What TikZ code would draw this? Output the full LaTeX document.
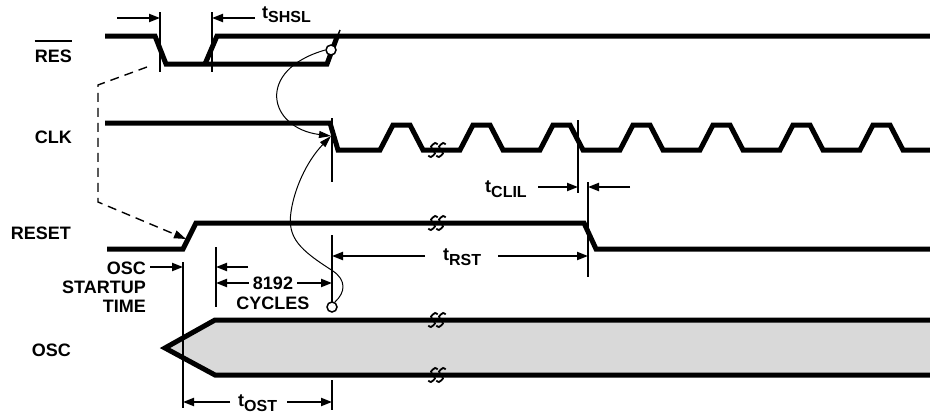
\documentclass[tikz,border=0pt]{standalone}
\usepackage{fontspec}
\setmainfont{Liberation Sans}
\usetikzlibrary{arrows.meta}
\newcommand{\tsub}[1]{t\raisebox{-5pt}{\fontsize{16}{18}\selectfont #1}}
\newcommand{\brk}[1]{%
    \begin{scope}[shift={(#1)},xslant=0.3]
        \draw[brk] plot[smooth] coordinates {(-1,-5.5) (-4,-7) (-7,-3.5) (-4,0) (-1,3.5) (-4,7) (-7,5.5)};
        \draw[brk] plot[smooth] coordinates {(7,-5.5) (4,-7) (1,-3.5) (4,0) (7,3.5) (4,7) (1,5.5)};
    \end{scope}}
\begin{document}
\begin{tikzpicture}[x=1pt,y=-1pt]
            \tikzstyle{signal}=[line width=5pt,line join=miter]
            \tikzstyle{guide}=[line width=1.5pt]
            \tikzstyle{dim}=[line width=2pt,-{Triangle[length=11pt,width=8pt]}]
            \tikzstyle{curve}=[line width=1pt,-{Triangle[length=12pt,width=7pt]}]
            \tikzstyle{dash arrow}=[line width=1.4pt,dash pattern=on 9pt off 6pt,-{Triangle[length=12pt,width=8pt]}]
            \tikzstyle{brk}=[line width=1.8pt]
            \tikzstyle{lbl}=[font=\fontsize{18}{19}\selectfont\bfseries,inner sep=0pt]
            \tikzstyle{dot}=[circle,draw,line width=1.5pt,fill=white,minimum size=10pt,inner sep=0pt]

            \useasboundingbox (0,0) rectangle (930,415);

            % signal names
            \node(res)[lbl,anchor=east] at (72,56) {RES};
            \draw[guide,line width=2pt] ([yshift=8pt]res.north west) -- ([yshift=8pt]res.north east);
            \node(clk)[lbl,anchor=east] at (72,137) {CLK};
            \node(reset)[lbl,anchor=east] at (71,233) {RESET};
            \node(osc)[lbl,anchor=east] at (71,350) {OSC};

            % waveforms
            \draw[signal] (105,36) -- (155,36) -- (166,64) -- (327,64) -- (337,37);
            \draw[signal] (205,64) -- (217,36) -- (930,36);
            \draw[signal] (105,123) -- (330,123) -- (338,150)
            foreach \x in {380,460,...,860}{ -- (\x,150) -- ++(13,-25) -- ++(17,0) -- ++(13,25) }
            -- (930,150);
            \draw[signal] (107,249) -- (183,249) -- (196,223) -- (584,223) -- (596,249) -- (930,249);
            \draw[signal,fill=gray!30] (930,320) -- (215,320) -- (165,348) -- (215,375) -- (930,375);
            \brk{437,150}
            \brk{437,223}
            \brk{437,320}
            \brk{437,375}

            % guide lines
            \draw[guide] (160,12) -- (160,72);
            \draw[guide] (212,12) -- (212,72);
            \draw[guide] (340,30) -- (331,53);
            \draw[guide] (332,118) -- (332,182);
            \draw[guide] (578,120) -- (578,193);
            \draw[guide] (588,182) -- (588,277);
            \draw[guide] (332,235) -- (332,302);
            \draw[guide] (216,247) -- (216,307);
            \draw[guide] (183,262) -- (183,408);
            \draw[guide] (332,380) -- (332,410);

            % marks and cause arrows
            \node(res dot)[dot] at (331,50) {};
            \node(cyc dot)[dot] at (332,307) {};
            \coordinate(clk edge) at (331,136);
            \draw[curve] (res dot.west) .. controls (255,70) and (268,128) .. (clk edge);
            \draw[curve] (cyc dot.60) .. controls (346,292) and (346,280) .. (333,271)
            .. controls (300,250) and (287,238) .. (291,212)
            .. controls (294,190) and (306,162) .. (clk edge);
            \draw[dash arrow] (147,67) -- (98,85) -- (98,202) -- (186,239);

            % timing
            \draw[dim] (117,18) -- (160,18);
            \draw[dim] (255,18) -- (212,18);
            \node(shsl)[lbl,anchor=base west] at (262,18) {\tsub{SHSL}};
            \draw[dim] (538,187) -- (578,187);
            \draw[dim] (630,187) -- (588,187);
            \node(clil)[lbl,anchor=base west] at (485,192) {\tsub{CLIL}};
            \draw[dim] (425,256) -- (332,256);
            \draw[dim] (498,256) -- (588,256);
            \node(rst)[lbl,anchor=base west] at (443,260) {\tsub{RST}};
            \node(start)[lbl,anchor=north east,align=right] at (146,262) {OSC\\STARTUP\\TIME};
            \draw[dim] (150,267) -- (183,267);
            \draw[dim] (248,267) -- (216,267);
            \node(count)[lbl] at (273,283) {8192};
            \node(cycles)[lbl] at (273,303) {CYCLES};
            \draw[dim] (count.west) ++(-4,0) -- (216,283);
            \draw[dim] (count.east) ++(4,0) -- (332,283);
            \draw[dim] (230,402) -- (183,402);
            \draw[dim] (287,402) -- (332,402);
            \node(ost)[lbl,anchor=base west] at (238,406) {\tsub{OST}};
\end{tikzpicture}
\end{document}
